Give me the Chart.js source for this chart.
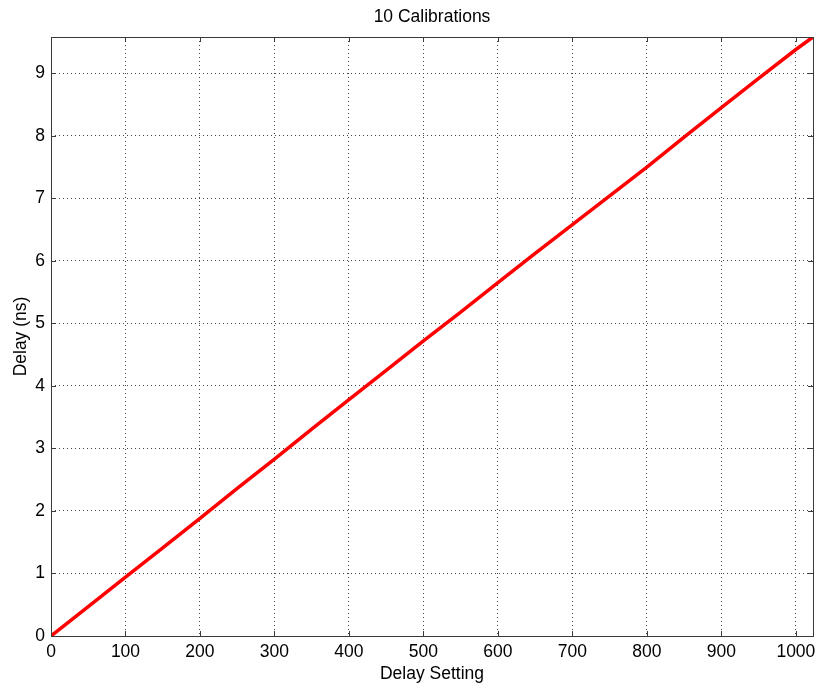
<!DOCTYPE html>
<html>
<head>
<meta charset="utf-8">
<script src="https://cdn.jsdelivr.net/npm/chart.js@4"></script>
<style>
  html, body { margin: 0; padding: 0; background: #fff; }
  #wrap { width: 819px; height: 685px; }
</style>
</head>
<body>
<div id="wrap"><canvas id="c" width="819" height="685"></canvas></div>
<script>
// Data
const delaySetting = [0, 50, 100, 150, 200, 250, 300, 350, 400, 450, 500, 550, 600, 650, 700, 750, 800, 850, 900, 950, 1000, 1023];
const delayNs      = [0, 0.47, 0.94, 1.41, 1.88, 2.36, 2.83, 3.31, 3.78, 4.25, 4.72, 5.18, 5.65, 6.12, 6.58, 7.04, 7.50, 7.98, 8.45, 8.92, 9.38, 9.58];
const xTicks = [0, 100, 200, 300, 400, 500, 600, 700, 800, 900, 1000];
const yTicks = [0, 1, 2, 3, 4, 5, 6, 7, 8, 9];
const xMax = 1023;
const yMax = 9.58;
const titleText = '10 Calibrations';
const xTitle = 'Delay Setting';
const yTitle = 'Delay (ns)';

const FONT = 'Liberation Sans, Arial, Helvetica, sans-serif';
const FS = 17.5;

const framePlugin = {
  id: 'frame',
  afterDraw(chart) {
    const ctx = chart.ctx;
    const a = chart.chartArea;
    const xs = chart.scales.x, ys = chart.scales.y;
    ctx.save();
    ctx.strokeStyle = '#3a3a3a';
    ctx.lineWidth = 1;
    ctx.beginPath();
    const L = 5;
    xs.ticks.forEach(t => {
      const px = Math.round(xs.getPixelForValue(t.value)) + 0.5;
      ctx.moveTo(px, a.bottom); ctx.lineTo(px, a.bottom - L);
      ctx.moveTo(px, a.top); ctx.lineTo(px, a.top + L);
    });
    ys.ticks.forEach(t => {
      const py = Math.round(ys.getPixelForValue(t.value)) + 0.5;
      ctx.moveTo(a.left, py); ctx.lineTo(a.left + L, py);
      ctx.moveTo(a.right, py); ctx.lineTo(a.right - L, py);
    });
    ctx.stroke();
    ctx.strokeRect(Math.round(a.left) + 0.5, Math.round(a.top) + 0.5,
                   Math.round(a.right - a.left), Math.round(a.bottom - a.top));
    ctx.restore();
  }
};

new Chart(document.getElementById('c'), {
  type: 'line',
  data: {
    datasets: [{
      data: delaySetting.map((x, i) => ({ x: x, y: delayNs[i] })),
      borderColor: '#ff0000',
      borderWidth: 3.5,
      pointRadius: 0,
      tension: 0,
      fill: false
    }]
  },
  options: {
    responsive: false,
    animation: false,
    layout: { padding: { left: 0, right: 6, top: 0, bottom: 0 } },
    plugins: {
      legend: { display: false },
      tooltip: { enabled: false },
      title: {
        display: true,
        text: titleText,
        fullSize: false,
        color: '#000',
        font: { family: FONT, size: FS, weight: 'normal' },
        padding: { top: 6.9, bottom: 9.1 }
      }
    },
    scales: {
      x: {
        type: 'linear',
        min: 0,
        max: xMax,
        afterBuildTicks: s => { s.ticks = xTicks.map(v => ({ value: v })); },
        afterFit: s => { s.height = 49; s.paddingRight = 0; },
        ticks: { color: '#000', font: { family: FONT, size: FS }, padding: 6, maxRotation: 0, autoSkip: false,
                 callback: v => String(v) },
        grid: { drawTicks: false, color: '#444', lineWidth: 1 },
        border: { display: false, dash: [1, 3] },
        title: { display: true, text: xTitle, color: '#000', font: { family: FONT, size: FS }, padding: { top: 0.5, bottom: 0 } }
      },
      y: {
        type: 'linear',
        min: 0,
        max: yMax,
        afterBuildTicks: s => { s.ticks = yTicks.map(v => ({ value: v })); },
        afterFit: s => { s.width = 51; },
        ticks: { color: '#000', font: { family: FONT, size: FS }, padding: 6, autoSkip: false,
                 callback: v => String(v) },
        grid: { drawTicks: false, color: '#444', lineWidth: 1 },
        border: { display: false, dash: [1, 3] },
        title: { display: true, text: yTitle, color: '#000', font: { family: FONT, size: FS }, padding: { top: 10.5, bottom: 0 } }
      }
    }
  },
  plugins: [framePlugin]
});
</script>
</body>
</html>
